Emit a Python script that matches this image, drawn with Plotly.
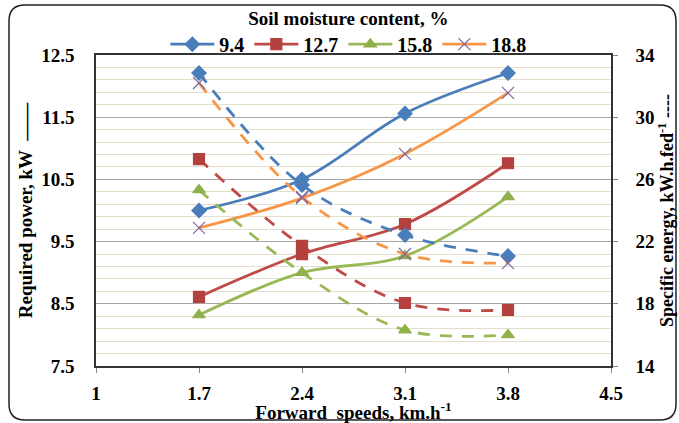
import plotly.graph_objects as go

speeds = [1.7, 2.4, 3.1, 3.8]
moisture = ["9.4", "12.7", "15.8", "18.8"]

power_94 = [10.0, 10.5, 11.56, 12.21]
power_127 = [8.61, 9.30, 9.78, 10.76]
power_158 = [8.32, 9.0, 9.27, 10.22]
power_188 = [9.72, 10.2, 10.91, 11.89]

energy_94 = [32.84, 25.64, 22.42, 21.07]
energy_127 = [27.31, 21.72, 18.05, 17.6]
energy_158 = [25.32, 20.0, 16.31, 16.0]
energy_188 = [32.2, 24.87, 21.2, 20.62]

x_ticks = [1, 1.7, 2.4, 3.1, 3.8, 4.5]
y_ticks = [7.5, 8.5, 9.5, 10.5, 11.5, 12.5]
y2_ticks = [14, 18, 22, 26, 30, 34]

line_colors = ["#4A7EBB", "#BE4B48", "#98B954", "#F79646"]
marker_colors = ["#4A7EBB", "#B5413E", "#8FB04B", "#8064A2"]
symbols = ["diamond", "square", "triangle-up", "x-thin"]

powers = [power_94, power_127, power_158, power_188]
energies = [energy_94, energy_127, energy_158, energy_188]

fig = go.Figure()
for i, name in enumerate(moisture):
    mk = dict(symbol=symbols[i], size=11 if i < 3 else 12, color=marker_colors[i],
              line=dict(width=1.2, color=marker_colors[i]))
    fig.add_trace(go.Scatter(x=speeds, y=energies[i], mode="lines+markers", yaxis="y2",
                             line=dict(color=line_colors[i], width=2.8, dash="12px,10px", shape="spline"),
                             marker=mk, showlegend=False, name=name))
for i, name in enumerate(moisture):
    mk = dict(symbol=symbols[i], size=11 if i < 3 else 12, color=marker_colors[i],
              line=dict(width=1.2, color=marker_colors[i]))
    fig.add_trace(go.Scatter(x=speeds, y=powers[i], mode="lines+markers", name=f"<b>{name}</b>",
                             line=dict(color=line_colors[i], width=2.8, shape="spline"),
                             marker=mk))

font = "Liberation Serif"
L, R, T, B = 96, 68, 55, 57
W, H = 679, 423
pw, ph = W - L - R, H - T - B

def px(x):
    return (x - L) / pw

def py(y):
    return (H - B - y) / ph

x0, x1, y0, y1, r = 9, 676, 5, 420, 16
path = (f"M {px(x0+r)} {py(y0)} L {px(x1-r)} {py(y0)} Q {px(x1)} {py(y0)} {px(x1)} {py(y0+r)} "
        f"L {px(x1)} {py(y1-r)} Q {px(x1)} {py(y1)} {px(x1-r)} {py(y1)} "
        f"L {px(x0+r)} {py(y1)} Q {px(x0)} {py(y1)} {px(x0)} {py(y1-r)} "
        f"L {px(x0)} {py(y0+r)} Q {px(x0)} {py(y0)} {px(x0+r)} {py(y0)} Z")

tickfont = dict(family=font, size=19, color="black")

fig.update_layout(
    width=W, height=H,
    margin=dict(l=L, r=R, t=T, b=B, autoexpand=False),
    paper_bgcolor="white", plot_bgcolor="white",
    font=dict(family=font, color="black", size=18),
    shapes=[dict(type="path", xref="paper", yref="paper", path=path,
                 line=dict(color="#222", width=1.5), layer="below")],
    legend=dict(orientation="h", x=0.49, xanchor="center", y=py(64), yanchor="bottom",
                title=dict(text="<b>Soil moisture content, %</b>", side="top center",
                           font=dict(family=font, size=19)),
                font=dict(family=font, size=20), tracegroupgap=0, itemwidth=44,
                bgcolor="rgba(0,0,0,0)"),
    xaxis=dict(range=[1, 4.5], tickvals=x_ticks, ticktext=[f"<b>{v}</b>" for v in x_ticks],
               tickfont=tickfont, automargin=False, ticklabelstandoff=4,
               showgrid=False, showline=True, linecolor="#333", linewidth=1.5, mirror=True,
               ticks="outside", ticklen=5, tickcolor="#888", zeroline=False,
               title=dict(text="<b>Forward  speeds, km.h<sup>-1</sup></b>", standoff=0,
                          font=dict(family=font, size=19))),
    yaxis=dict(range=[7.5, 12.5], tickvals=y_ticks, ticktext=[f"<b>{v}</b>" for v in y_ticks],
               tickfont=tickfont, automargin=False, ticklabelstandoff=16,
               showgrid=True, gridcolor="#A6A6A6", gridwidth=1.2,
               minor=dict(dtick=0.2, tick0=7.5, showgrid=True, gridcolor="#E3DFCB", gridwidth=1.2),
               showline=True, linecolor="#333", linewidth=1.5, mirror=True, zeroline=False,
               ticks="", title=dict(text="<b>Required power, kW  ——</b>", standoff=4,
                                    font=dict(family=font, size=19))),
    yaxis2=dict(range=[14, 34], tickvals=y2_ticks, ticktext=[f"<b>{v}</b>" for v in y2_ticks],
                tickfont=tickfont, automargin=False, ticklabelstandoff=14,
                overlaying="y", side="right", showgrid=False, zeroline=False,
                showline=True, linecolor="#333", linewidth=1.5,
                ticks="outside", ticklen=5, tickcolor="#888",
                title=dict(text="<b>Specific energy, kW.h.fed<sup>-1</sup> ----</b>", standoff=6,
                           font=dict(family=font, size=18))),
)

fig.write_html("out.html", config={"displayModeBar": False},
               post_script="document.body.style.margin='0';")
